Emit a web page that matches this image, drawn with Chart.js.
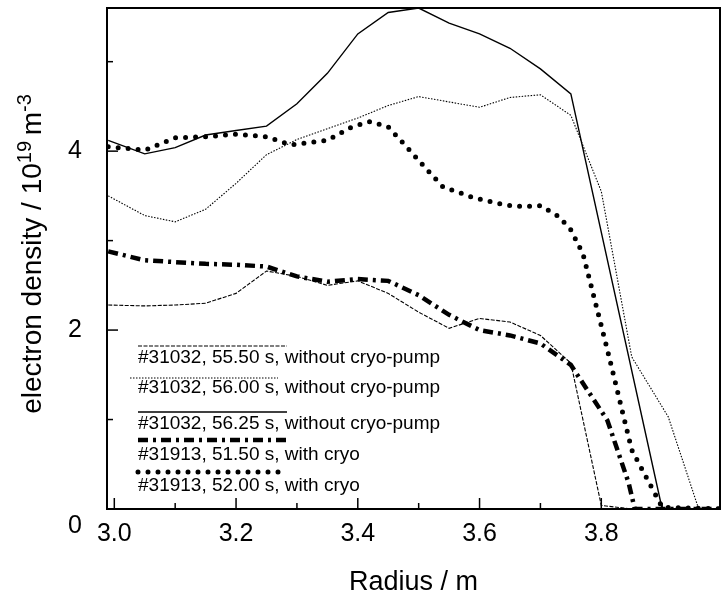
<!DOCTYPE html>
<html>
<head>
<meta charset="utf-8">
<script src="https://cdn.jsdelivr.net/npm/chart.js@4.4.1/dist/chart.umd.min.js"></script>
<style>
  html, body { margin: 0; padding: 0; background: #fff; }
  #wrap { position: relative; width: 728px; height: 599px; }
  #legend { position: absolute; left: 0; top: 0; width: 728px; height: 599px; pointer-events: none;
            font-family: "Liberation Sans", Arial, sans-serif; font-size: 19px; color: #000; }
  .lg-text { position: absolute; white-space: nowrap; line-height: 22px; }
  .lg-line { position: absolute; overflow: visible; }
  #ytitle { position: absolute; left: 33px; top: 254px; white-space: nowrap; pointer-events: none;
            font-family: "Liberation Sans", Arial, sans-serif; font-size: 28px; line-height: 32px; color: #000;
            transform: translate(-50%, -50%) rotate(-90deg); }
  #ytitle sup { font-size: 20px; vertical-align: 0; position: relative; top: -10px; }
</style>
</head>
<body>
<div id="wrap">
  <canvas id="c" width="728" height="599"></canvas>
  <div id="legend"></div>
  <div id="ytitle"></div>
</div>
<script>
// ---------- data ----------
const seriesLabels = [
  "#31032, 55.50 s, without cryo-pump",
  "#31032, 56.00 s, without cryo-pump",
  "#31032, 56.25 s, without cryo-pump",
  "#31913, 51.50 s, with cryo",
  "#31913, 52.00 s, with cryo"
];

const radius5550 = [2.99, 3.05, 3.10, 3.15, 3.20, 3.25, 3.30, 3.35, 3.40, 3.45, 3.50, 3.55, 3.60, 3.65, 3.70, 3.75, 3.80, 3.85, 4.00];
const density5550 = [2.28, 2.27, 2.28, 2.30, 2.41, 2.66, 2.60, 2.50, 2.55, 2.41, 2.20, 2.02, 2.13, 2.09, 1.94, 1.63, 0.04, 0.00, 0.00];

const radius5600 = [2.99, 3.05, 3.10, 3.15, 3.20, 3.25, 3.30, 3.35, 3.40, 3.45, 3.50, 3.55, 3.60, 3.65, 3.70, 3.75, 3.80, 3.85, 3.91, 3.96, 4.00];
const density5600 = [3.50, 3.28, 3.21, 3.35, 3.64, 3.96, 4.13, 4.25, 4.37, 4.51, 4.61, 4.55, 4.49, 4.60, 4.63, 4.40, 3.55, 1.70, 1.03, 0.00, 0.00];

const radius5625 = [2.99, 3.05, 3.10, 3.15, 3.20, 3.25, 3.30, 3.35, 3.40, 3.45, 3.50, 3.55, 3.60, 3.65, 3.70, 3.75, 3.90, 4.00];
const density5625 = [4.12, 3.97, 4.04, 4.18, 4.23, 4.28, 4.53, 4.87, 5.31, 5.55, 5.60, 5.43, 5.31, 5.15, 4.92, 4.64, 0.00, 0.00];

const radius5150 = [2.99, 3.05, 3.10, 3.15, 3.20, 3.25, 3.30, 3.35, 3.40, 3.45, 3.50, 3.55, 3.60, 3.65, 3.70, 3.75, 3.81, 3.845, 3.855, 4.00];
const density5150 = [2.88, 2.78, 2.76, 2.74, 2.73, 2.71, 2.60, 2.54, 2.57, 2.55, 2.39, 2.17, 2.00, 1.94, 1.85, 1.61, 0.99, 0.29, 0.00, 0.00];

const radius5200 = [2.99, 3.05, 3.10, 3.15, 3.20, 3.25, 3.29, 3.35, 3.39, 3.42, 3.45, 3.48, 3.51, 3.54, 3.59, 3.64, 3.67, 3.70, 3.73, 3.75, 3.77, 3.81, 3.85, 3.90, 4.00];
const density5200 = [4.05, 4.01, 4.15, 4.16, 4.19, 4.16, 4.07, 4.12, 4.27, 4.33, 4.27, 4.05, 3.82, 3.60, 3.48, 3.40, 3.38, 3.39, 3.27, 3.12, 2.85, 1.78, 0.66, 0.02, 0.00];

const xTickLabels = ["3.0", "3.2", "3.4", "3.6", "3.8"];
const xTickMarks = [3.0, 3.1, 3.2, 3.3, 3.4, 3.5, 3.6, 3.7, 3.8, 3.9];
const yTickLabels = ["0", "2", "4"];
const yTickMarks = [1, 2, 3, 4, 5];
const xTitle = "Radius / m";
const yTitleParts = [["electron density / 10", false], ["19", true], ["\u2009m", false], ["-3", true]];

// ---------- styles ----------
const FONT = "'Liberation Sans', Arial, sans-serif";
const styles = [
  { width: 1.1, dash: [4, 1.5], cap: "butt" },
  { width: 1.1, dash: [1.5, 1.5], cap: "butt" },
  { width: 1.4, dash: [], cap: "butt" },
  { width: 4.5, dash: [10, 5, 3, 5], cap: "butt" },
  { width: 5, dash: [0, 10], cap: "round" }
];
const radii = [radius5550, radius5600, radius5625, radius5150, radius5200];
const dens = [density5550, density5600, density5625, density5150, density5200];

const datasets = seriesLabels.map((lab, i) => ({
  label: lab,
  data: radii[i].map((r, k) => ({ x: r, y: dens[i][k] })),
  borderColor: "#000",
  borderWidth: styles[i].width,
  borderDash: styles[i].dash,
  borderCapStyle: styles[i].cap,
  pointRadius: 0,
  tension: 0,
  fill: false
}));

const framePlugin = {
  id: "frame",
  afterDraw(chart) {
    const { ctx, chartArea: a, scales: { x, y } } = chart;
    ctx.save();
    ctx.strokeStyle = "#000";
    ctx.setLineDash([]);
    ctx.lineWidth = 2;
    ctx.strokeRect(a.left, a.top, a.right - a.left, a.bottom - a.top);
    ctx.lineWidth = 1.5;
    xTickMarks.forEach((v, i) => {
      const px = x.getPixelForValue(v);
      const len = (i % 2 === 0) ? 11 : 6;
      ctx.beginPath(); ctx.moveTo(px, a.bottom); ctx.lineTo(px, a.bottom - len); ctx.stroke();
    });
    yTickMarks.forEach((v) => {
      const py = y.getPixelForValue(v);
      const len = (v % 2 === 0) ? 11 : 6;
      ctx.beginPath(); ctx.moveTo(a.left, py); ctx.lineTo(a.left + len, py); ctx.stroke();
    });
    // the zero label sits below the corner in the reference
    ctx.fillStyle = "#000";
    ctx.font = "25px " + FONT;
    ctx.textAlign = "right";
    ctx.textBaseline = "middle";
    ctx.fillText(yTickLabels[0], a.left - 25, y.getPixelForValue(0) + 17);
    ctx.restore();
  }
};

new Chart(document.getElementById("c"), {
  type: "line",
  data: { datasets },
  options: {
    responsive: false,
    animation: false,
    devicePixelRatio: 1,
    layout: { padding: { top: 8, right: 8, left: 0, bottom: 0 } },
    plugins: { legend: { display: false }, tooltip: { enabled: false } },
    scales: {
      x: {
        type: "linear",
        min: 2.988,
        max: 3.995,
        afterFit: (s) => { s.height = 90; s.paddingLeft = 0; s.paddingRight = 0; },
        grid: { display: false, drawTicks: false },
        border: { display: false },
        ticks: {
          stepSize: 0.2,
          includeBounds: false,
          padding: 10,
          color: "#000",
          font: { family: FONT, size: 25 },
          maxRotation: 0,
          callback: (v) => {
            const s = Number(v).toFixed(1);
            return xTickLabels.includes(s) ? s : "";
          }
        },
        title: {
          display: true,
          text: xTitle,
          color: "#000",
          font: { family: FONT, size: 27 },
          padding: { top: 0, bottom: 0 }
        }
      },
      y: {
        type: "linear",
        min: 0,
        max: 5.6,
        afterFit: (s) => { s.width = 107; s.paddingTop = 0; s.paddingBottom = 0; },
        grid: { display: false, drawTicks: false },
        border: { display: false },
        ticks: {
          stepSize: 2,
          includeBounds: false,
          padding: 25,
          color: "#000",
          font: { family: FONT, size: 25 },
          callback: (v) => {
            const s = String(Math.round(v));
            return (s !== "0" && yTickLabels.includes(s)) ? s : "";
          }
        },
        title: { display: false }
      }
    }
  },
  plugins: [framePlugin]
});

// ---------- y-axis title with true superscripts ----------
const yt = document.getElementById("ytitle");
yTitleParts.forEach(([txt, sup]) => {
  const el = document.createElement(sup ? "sup" : "span");
  el.textContent = txt;
  yt.appendChild(el);
});

// ---------- legend (line sample above each label) ----------
const legendRows = [
  { lineY: 346, x0: 138, x1: 287, textY: 357 },
  { lineY: 378, x0: 130, x1: 278, textY: 387 },
  { lineY: 412, x0: 138, x1: 287, textY: 423 },
  { lineY: 440, x0: 138, x1: 287, textY: 454 },
  { lineY: 472, x0: 138, x1: 283, textY: 485 }
];
const legendEl = document.getElementById("legend");
const NS = "http://www.w3.org/2000/svg";
seriesLabels.forEach((lab, i) => {
  const r = legendRows[i];
  const svg = document.createElementNS(NS, "svg");
  svg.setAttribute("class", "lg-line");
  svg.setAttribute("width", r.x1 - r.x0 + 6);
  svg.setAttribute("height", 10);
  svg.style.left = (r.x0 - 3) + "px";
  svg.style.top = (r.lineY - 5) + "px";
  const ln = document.createElementNS(NS, "line");
  ln.setAttribute("x1", 3); ln.setAttribute("x2", r.x1 - r.x0 + 3);
  ln.setAttribute("y1", 5); ln.setAttribute("y2", 5);
  ln.setAttribute("stroke", "#000");
  ln.setAttribute("stroke-width", styles[i].width);
  ln.setAttribute("stroke-linecap", styles[i].cap);
  if (styles[i].dash.length) ln.setAttribute("stroke-dasharray", styles[i].dash.join(" "));
  svg.appendChild(ln);
  legendEl.appendChild(svg);
  const t = document.createElement("div");
  t.className = "lg-text";
  t.textContent = lab;
  t.style.left = "138px";
  t.style.top = (r.textY - 11) + "px";
  legendEl.appendChild(t);
});
</script>
</body>
</html>
